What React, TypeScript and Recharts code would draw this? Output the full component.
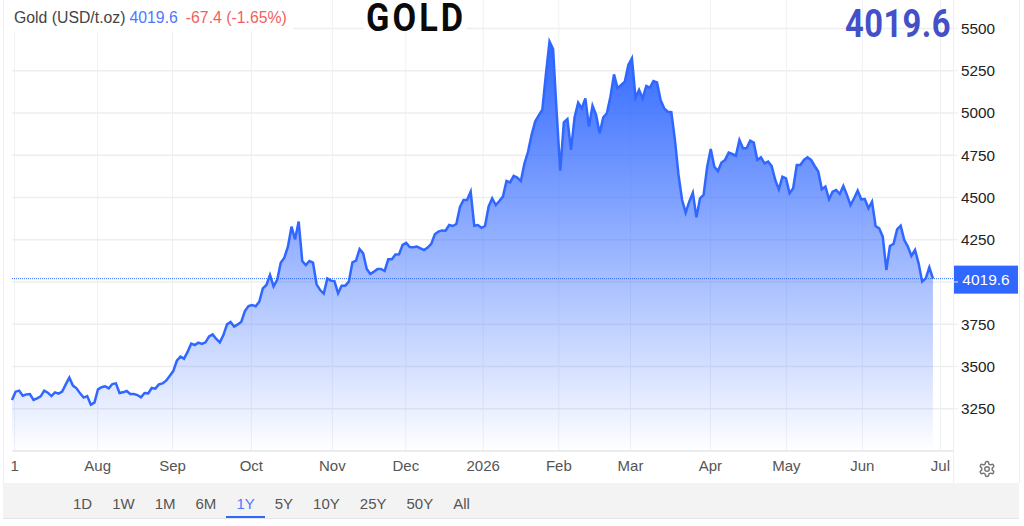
import React from 'react';
import {
  AreaChart,
  Area,
  XAxis,
  YAxis,
  CartesianGrid,
  ReferenceLine,
} from 'recharts';

// daily closes (Jul 2025 - Jun 2026)
const prices = [
  3302, 3351, 3357, 3327, 3335, 3337, 3302, 3312, 3323, 3357, 3345, 3325, 3347, 3339, 3351, 3394,
  3434, 3387, 3371, 3341, 3316, 3325, 3274, 3286, 3365, 3377, 3383, 3371, 3396, 3400, 3343, 3347,
  3355, 3337, 3337, 3331, 3317, 3343, 3341, 3373, 3369, 3394, 3400, 3416, 3444, 3473, 3534, 3558,
  3546, 3586, 3635, 3627, 3641, 3633, 3643, 3678, 3690, 3663, 3643, 3686, 3749, 3763, 3736, 3749,
  3765, 3828, 3858, 3864, 3856, 3883, 3962, 3982, 4041, 3974, 4012, 4114, 4144, 4209, 4327, 4252,
  4357, 4124, 4100, 4124, 4114, 3986, 3952, 3931, 4021, 4008, 4004, 3933, 3978, 3978, 4002, 4116,
  4126, 4195, 4169, 4077, 4047, 4061, 4077, 4077, 4065, 4134, 4134, 4162, 4163, 4219, 4231, 4207,
  4205, 4209, 4199, 4189, 4203, 4225, 4282, 4298, 4305, 4303, 4337, 4331, 4343, 4443, 4485, 4485,
  4534, 4333, 4337, 4321, 4331, 4445, 4495, 4455, 4479, 4505, 4597, 4589, 4627, 4617, 4597, 4700,
  4770, 4870, 4950, 4985, 5020, 5230, 5422, 5378, 5000, 4658, 4944, 4964, 4781, 4974, 5061, 5027,
  5086, 4919, 5043, 4988, 4879, 4974, 4998, 5096, 5228, 5146, 5165, 5185, 5284, 5323, 5090, 5136,
  5086, 5159, 5149, 5189, 5181, 5076, 5027, 5007, 5005, 4840, 4633, 4485, 4410, 4475, 4528, 4382,
  4495, 4515, 4682, 4787, 4682, 4656, 4706, 4722, 4765, 4757, 4747, 4840, 4791, 4791, 4836, 4824,
  4722, 4737, 4702, 4712, 4686, 4603, 4548, 4623, 4613, 4524, 4554, 4692, 4692, 4722, 4737, 4722,
  4686, 4653, 4548, 4564, 4489, 4534, 4544, 4520, 4568, 4515, 4455, 4495, 4540, 4489, 4491, 4436,
  4475, 4331, 4317, 4268, 4071, 4213, 4225, 4311, 4333, 4248, 4209, 4154, 4189, 4110, 4002, 4021,
  4087, 4019.6,
];

const monthTicks = [0.75, 23.9, 44.8, 66.8, 89.4, 109.9, 131.5, 152.6, 172.6, 194.9, 216.1, 237.3, 259.1];
const monthLabels = ['1', 'Aug', 'Sep', 'Oct', 'Nov', 'Dec', '2026', 'Feb', 'Mar', 'Apr', 'May', 'Jun', 'Jul'];
const priceTicks = [3250, 3500, 3750, 4000, 4250, 4500, 4750, 5000, 5250, 5500];
const ranges = ['1D', '1W', '1M', '6M', '1Y', '5Y', '10Y', '25Y', '50Y', 'All'];

const lastPrice = prices[prices.length - 1];
const chartData = prices.map((price, session) => ({ session, price }));

const BLUE = '#2f67ff';
const FONT = '"Liberation Sans", Arial, sans-serif';

const PriceTag = ({ viewBox }: any) => {
  const y = viewBox.y;
  return (
    <g>
      <rect x={954} y={y - 13} width={64} height={28} fill={BLUE} />
      <text x={986} y={y + 6} textAnchor="middle" fill="#fff" fontSize={15.5} fontFamily={FONT}>
        {lastPrice.toFixed(1)}
      </text>
    </g>
  );
};

const App = () => (
  <div style={{ position: 'absolute', left: 0, top: 0, width: 1024, height: 526, background: '#fff', overflow: 'hidden', fontFamily: FONT }}>
    <AreaChart
      width={1024}
      height={483}
      data={chartData}
      margin={{ top: 0, right: 0, bottom: 0, left: 12 }}
    >
      <defs>
        <linearGradient id="goldFill" x1="0" y1="0" x2="0" y2="1">
          <stop offset="0%" stopColor={BLUE} stopOpacity={1} />
          <stop offset="100%" stopColor={BLUE} stopOpacity={0} />
        </linearGradient>
      </defs>
      <CartesianGrid stroke="#eef1f4" horizontal={false} verticalValues={monthTicks} />
      <CartesianGrid stroke="#eeeeee" strokeWidth={1.5} vertical={false} horizontalValues={priceTicks} />
      <XAxis
        type="number"
        dataKey="session"
        domain={[0, 262.6]}
        ticks={monthTicks}
        interval={0}
        height={32}
        tickFormatter={(v: number) => monthLabels[monthTicks.indexOf(v)]}
        tick={{ fill: '#555', fontSize: 15, fontFamily: FONT }}
        tickLine={false}
        tickMargin={3}
        axisLine={{ stroke: '#e6e6e6', strokeWidth: 1.5 }}
      />
      <YAxis
        orientation="right"
        domain={[3000, 5668]}
        ticks={priceTicks}
        interval={0}
        width={71}
        // the 4000 label sits behind the price tag in the original
        tickFormatter={(v: number) => (v === 4000 ? '' : String(v))}
        tick={{ fill: '#222', fontSize: 15.3, fontFamily: FONT }}
        tickSize={5}
        tickMargin={3}
        tickLine={{ stroke: '#eeeeee' }}
        axisLine={false}
      />
      <Area
        type="linear"
        dataKey="price"
        baseValue={3000}
        stroke={BLUE}
        strokeWidth={2.5}
        fill="url(#goldFill)"
        fillOpacity={1}
        dot={false}
        activeDot={false}
        isAnimationActive={false}
      />
      <ReferenceLine y={lastPrice} stroke={BLUE} strokeDasharray="1 1" label={<PriceTag />} />
    </AreaChart>

    {/* frame and dividers */}
    <div style={{ position: 'absolute', left: 3, top: 0, width: 1, height: 483, background: '#eeeeee' }} />
    <div style={{ position: 'absolute', left: 953, top: 0, width: 1, height: 483, background: '#eeeeee' }} />
    <div style={{ position: 'absolute', left: 1019, top: 0, width: 1, height: 483, background: '#eeeeee' }} />

    {/* header */}
    <div style={{ position: 'absolute', left: 12, top: 0, width: 281, height: 31, background: '#fff' }} />
    <div style={{ position: 'absolute', left: 14, top: 9, fontSize: 15.8, lineHeight: '18px', whiteSpace: 'nowrap' }}>
      <span style={{ color: '#444' }}>Gold (USD/t.oz)</span>
      <span style={{ color: '#4f78ff', marginLeft: 4 }}>4019.6</span>
      <span style={{ color: '#f25f5c', marginLeft: 8 }}>-67.4 (-1.65%)</span>
    </div>

    <svg width={1024} height={40} style={{ position: 'absolute', left: 0, top: 0 }}>
      <rect x={364} y={0} width={102} height={31} fill="#fff" />
      <text transform="translate(366,31) scale(0.88,1)" fontFamily="Roboto" fontWeight={700} fontSize={39} letterSpacing={3.5} fill="#0a0a0a">
        GOLD
      </text>
      <text transform="translate(845,36.5) scale(0.84,1)" fontFamily="Roboto" fontWeight={700} fontSize={39} letterSpacing={0.5} fill="#4350c8">
        4019.6
      </text>
    </svg>

    {/* settings gear */}
    <svg width={18} height={18} viewBox="0 0 24 24" fill="none" stroke="#777" strokeWidth={2} style={{ position: 'absolute', left: 978, top: 460 }}>
      <path d="M12.22 2h-.44a2 2 0 0 0-2 2v.18a2 2 0 0 1-1 1.73l-.43.25a2 2 0 0 1-2 0l-.15-.08a2 2 0 0 0-2.73.73l-.22.38a2 2 0 0 0 .73 2.73l.15.1a2 2 0 0 1 1 1.72v.51a2 2 0 0 1-1 1.74l-.15.09a2 2 0 0 0-.73 2.73l.22.38a2 2 0 0 0 2.73.73l.15-.08a2 2 0 0 1 2 0l.43.25a2 2 0 0 1 1 1.73V20a2 2 0 0 0 2 2h.44a2 2 0 0 0 2-2v-.18a2 2 0 0 1 1-1.73l.43-.25a2 2 0 0 1 2 0l.15.08a2 2 0 0 0 2.73-.73l.22-.39a2 2 0 0 0-.73-2.73l-.15-.08a2 2 0 0 1-1-1.74v-.5a2 2 0 0 1 1-1.74l.15-.09a2 2 0 0 0 .73-2.73l-.22-.38a2 2 0 0 0-2.73-.73l-.15.08a2 2 0 0 1-2 0l-.43-.25a2 2 0 0 1-1-1.73V4a2 2 0 0 0-2-2z" />
      <circle cx={12} cy={12} r={3} />
    </svg>

    {/* range selector */}
    <div style={{ position: 'absolute', left: 3, top: 483, width: 1016, height: 36, background: '#f3f3f3', borderBottom: '1px solid #e4e4e4', display: 'flex', paddingLeft: 60, boxSizing: 'border-box' }}>
      {ranges.map((r) => (
        <div
          key={r}
          style={{
            padding: '0 10px',
            height: 33,
            lineHeight: '42px',
            fontSize: 15,
            color: r === '1Y' ? '#4f78ff' : '#555',
            borderBottom: r === '1Y' ? `2px solid ${BLUE}` : '2px solid transparent',
          }}
        >
          {r}
        </div>
      ))}
    </div>
  </div>
);

export default App;
